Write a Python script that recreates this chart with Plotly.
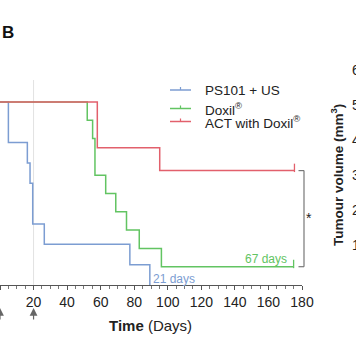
import plotly.graph_objects as go

# ---- data ----
ps101_days = [0, 5, 16.3, 17.9, 19.5, 26.4, 77.4, 89.3]
ps101_surv = [100, 77.8, 66.7, 55.6, 33.3, 22.2, 11.1, 0]

doxil_days = [0, 52, 55.2, 56.6, 63, 69, 75.4, 83, 96.2, 175]
doxil_surv = [100, 90, 80, 60, 50, 40, 30, 20, 10, 10]

act_days = [0, 58, 95.2, 175.5]
act_surv = [100, 75, 62.5, 62.5]

series_names = ["PS101 + US", "Doxil<sup>®</sup>", "ACT with Doxil<sup>®</sup>"]
x_ticks = [0, 20, 40, 60, 80, 100, 120, 140, 160, 180]
right_panel_ticks = ["6", "5", "4", "3", "2", "1"]

BLUE = "#7c9dd2"
GREEN = "#62c462"
RED = "#e2606c"
GRAY = "#777777"
TXT = "#222222"

W, H = 356, 364
PX0, PX1, PY0, PY1 = 0, 302, 80, 285
YMAX = 112


def px(xp):
    return (xp - PX0) / (PX1 - PX0)


def py(yp):
    return (PY1 - yp) / (PY1 - PY0)


def yv(v):
    # data value -> paper fraction
    return v / YMAX


fig = go.Figure()

# treatment day guide line
fig.add_shape(type="line", x0=20, x1=20, y0=0, y1=YMAX, xref="x", yref="y",
              line=dict(color="#e2e2e2", width=1), layer="below")

for d, s, c in [(ps101_days, ps101_surv, BLUE), (doxil_days, doxil_surv, GREEN),
                (act_days, act_surv, RED)]:
    fig.add_trace(go.Scatter(x=d, y=s, mode="lines", line=dict(color=c, width=1.5, shape="hv"),
                             showlegend=False, cliponaxis=False))

# censor ticks at the ends
fig.add_trace(go.Scatter(x=[doxil_days[-1], act_days[-1]], y=[doxil_surv[-1] + 1.5, act_surv[-1] + 1.5],
                         mode="markers", showlegend=False, cliponaxis=False,
                         marker=dict(symbol="line-ns", size=6,
                                     line=dict(color=[GREEN, RED], width=1.3))))

# bracket between the two groups (paper coords so it is not clipped)
bx, bxl = px(304), px(298.5)
ytop, ybot = yv(act_surv[-1]), yv(doxil_surv[-1])
for (x0, y0, x1, y1) in [(bx, ytop, bx, ybot), (bxl, ytop, bx, ytop), (bxl, ybot, bx, ybot)]:
    fig.add_shape(type="line", x0=x0, y0=y0, x1=x1, y1=y1, xref="paper", yref="paper",
                  line=dict(color=GRAY, width=1.2))

annotations = []


def note(x, y, text, size, color=TXT, xanchor="center", **kw):
    annotations.append(dict(x=x, y=y, xref="paper", yref="paper", text=text, showarrow=False,
                            xanchor=xanchor, yanchor="middle",
                            font=dict(size=size, color=color, family="Arial"), **kw))


note(px(309), py(218), "*", 14)

# median labels
note(px(151), py(279), "21 days", 12, BLUE, xanchor="left")
note(px(289), py(259), "67 days", 12, GREEN, xanchor="right")

# legend
leg_y = [90, 108.5, 121.5]
for name, c, yy in zip(series_names, [BLUE, GREEN, RED], leg_y):
    fig.add_shape(type="line", x0=px(170), x1=px(191), y0=py(yy), y1=py(yy), xref="paper", yref="paper",
                  line=dict(color=c, width=1.5))
    fig.add_shape(type="line", x0=px(180.5), x1=px(180.5), y0=py(yy), y1=py(yy - 3), xref="paper",
                  yref="paper", line=dict(color=c, width=1.2))
    note(px(203), py(yy), name, 13.5, xanchor="left")

# axis title
note(px(150), py(325), "<b>Time</b> (Days)", 15)

# panel letter
note(px(0), py(32), "<b>B</b>", 17, "#111", xanchor="left")

# treatment arrows
for day in [0, 20]:
    annotations.append(dict(x=day, y=py(308), xref="x", yref="paper", text="", showarrow=True,
                            ax=0, ay=13, arrowhead=2, arrowsize=1.3, arrowwidth=1.2, arrowcolor="#666"))

# neighbouring panel fragments
note(px(337), py(175), "<b>Tumour volume (mm<sup>3</sup>)</b>", 13.5, textangle=-90)
for t, yy in zip(right_panel_ticks, [70, 105, 140, 175, 210, 245]):
    note(px(350), py(yy), t, 14, xanchor="left")

fig.update_layout(
    width=W, height=H,
    margin=dict(l=PX0, r=W - PX1, t=PY0, b=H - PY1),
    paper_bgcolor="white", plot_bgcolor="white",
    showlegend=False,
    annotations=annotations,
    xaxis=dict(range=[0, 180], tickvals=x_ticks, showgrid=False, zeroline=False,
               showline=True, linecolor="#555", linewidth=1, ticks="outside", ticklen=4,
               tickcolor="#555", tickfont=dict(size=14, color=TXT, family="Arial"),
               minor=dict(dtick=5, ticks="outside", ticklen=3, tickcolor="#777", showgrid=False)),
    yaxis=dict(range=[0, YMAX], visible=False, showgrid=False, zeroline=False),
)

fig.write_html("out.html", config={"displayModeBar": False},
               post_script="document.body.style.margin='0';document.body.style.overflow='hidden';")
